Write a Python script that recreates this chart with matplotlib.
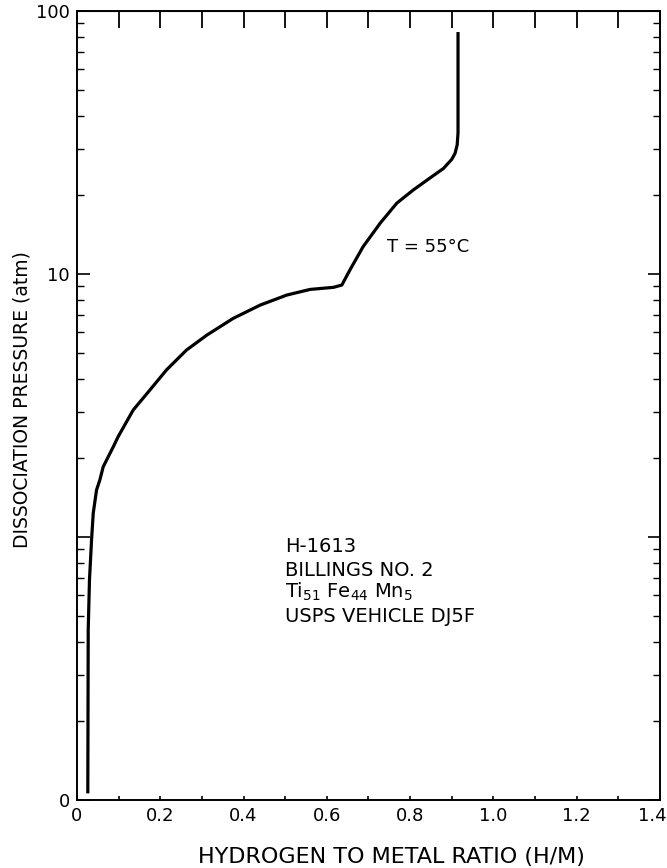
import matplotlib
matplotlib.use("Agg")
import matplotlib.pyplot as plt
import matplotlib.transforms as mtransforms
from matplotlib.ticker import FixedLocator, MultipleLocator, NullFormatter

plt.rcParams['font.family'] = ['DejaVu Sans']

# Data (H/M ratio vs dissociation pressure, atm)
h_m = [0.026, 0.027, 0.030, 0.035, 0.039, 0.047, 0.055, 0.063, 0.087, 0.099,
       0.135, 0.175, 0.215, 0.263, 0.312, 0.375, 0.440, 0.504, 0.560, 0.616,
       0.636, 0.656, 0.687, 0.728, 0.768, 0.808, 0.848, 0.880, 0.900, 0.908,
       0.913, 0.915, 0.915, 0.915]
pressure = [0.106, 0.443, 0.686, 0.974, 1.23, 1.51, 1.65, 1.85, 2.20, 2.41,
            3.04, 3.62, 4.32, 5.14, 5.86, 6.78, 7.62, 8.32, 8.74, 8.90,
            9.08, 10.4, 12.7, 15.6, 18.6, 20.9, 23.2, 25.2, 27.3, 28.8,
            31.0, 34.4, 61.2, 83.2]

x_ticks = [0, 0.2, 0.4, 0.6, 0.8, 1.0, 1.2, 1.4]
x_tick_labels = ["0", "0.2", "0.4", "0.6", "0.8", "1.0", "1.2", "1.4"]
y_ticks = [0.1, 1, 10, 100]
y_tick_labels = ["0", "", "10", "100"]

fig = plt.figure(figsize=(6.67, 8.68), dpi=100)
ax = fig.add_axes([0.1154, 0.0783, 0.8741, 0.909])

ax.plot(h_m, pressure, color="black", lw=2.3, solid_joinstyle="round",
        solid_capstyle="butt")

ax.set_yscale("log")
ax.set_xlim(0, 1.4)
ax.set_ylim(0.1, 100)

ax.set_xticks(x_ticks)
ax.set_xticklabels(x_tick_labels, fontsize=13)
ax.xaxis.set_minor_locator(MultipleLocator(0.1))
ax.tick_params(axis="x", which="both", direction="in", length=3, width=1.2,
               top=False, pad=5)
last = ax.get_xticklabels()[-1]
last.set_horizontalalignment("right")
last.set_transform(last.get_transform() +
                   mtransforms.ScaledTranslation(7 / 100, 0, fig.dpi_scale_trans))

ax.yaxis.set_major_locator(FixedLocator(y_ticks))
ax.set_yticklabels(y_tick_labels, fontsize=13)
minor = [m * d for d in (0.1, 1, 10) for m in range(2, 10)]
ax.yaxis.set_minor_locator(FixedLocator(minor))
ax.yaxis.set_minor_formatter(NullFormatter())
ax.tick_params(axis="y", which="major", direction="in", length=9, width=1.2,
               left=True, right=True, pad=5)
ax.tick_params(axis="y", which="minor", direction="in", length=5, width=1.0,
               left=True, right=True)

top = ax.secondary_xaxis("top")
top.set_xticks([i / 10 for i in range(15)])
top.set_xticklabels([])
top.tick_params(direction="in", length=12, width=1.3)

for s in ax.spines.values():
    s.set_linewidth(1.4)

ax.set_xlabel("HYDROGEN TO METAL RATIO (H/M)", fontsize=16, va="center")
ax.xaxis.set_label_coords(0.540, -0.0722)
ax.set_ylabel("DISSOCIATION PRESSURE (atm)", fontsize=13.5, va="center")
ax.yaxis.set_label_coords(-0.094, 0.507)

ax.text(0.532, 0.701, "T = 55°C", transform=ax.transAxes, fontsize=13,
        ha="left", va="center")

block_x = 0.357
fs = 14
ax.text(block_x, 0.321, "H-1613", transform=ax.transAxes, fontsize=fs, va="center")
ax.text(block_x, 0.2915, "BILLINGS NO. 2", transform=ax.transAxes, fontsize=fs, va="center")
ax.text(block_x, 0.2636, r"Ti$_{51}$ Fe$_{44}$ Mn$_{5}$", transform=ax.transAxes,
        fontsize=fs, va="center")
ax.text(block_x, 0.232, "USPS VEHICLE DJ5F", transform=ax.transAxes, fontsize=fs, va="center")

fig.savefig("out.png", dpi=100)
